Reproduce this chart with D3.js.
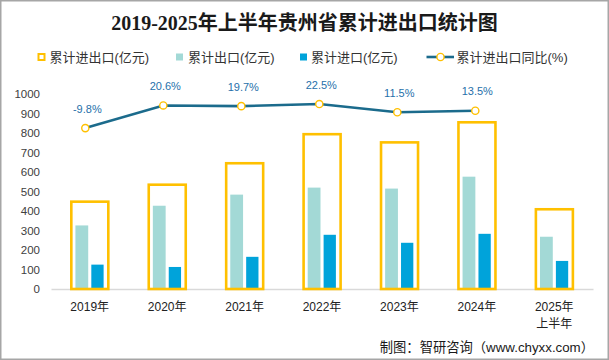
<!DOCTYPE html>
<html><head><meta charset="utf-8">
<script src="https://cdn.jsdelivr.net/npm/d3@7/dist/d3.min.js"></script>
<style>html,body{margin:0;padding:0;background:#fff;}svg{display:block;}</style>
</head><body><svg id="c" width="609" height="360"></svg>
<script>
const categories = ["2019年","2020年","2021年","2022年","2023年","2024年","2025年\n上半年"];
const totalValues = [453, 540, 650, 799, 757, 860, 414];
const exportValues = [326, 427, 484, 520, 515, 576, 268];
const importValues = [125, 113, 165, 278, 237, 283, 144];
const yoyValues = [-9.8, 20.6, 19.7, 22.5, 11.5, 13.5, null];
const yoyLabels = ["-9.8%","20.6%","19.7%","22.5%","11.5%","13.5%",""];
const yTicks = [0,100,200,300,400,500,600,700,800,900,1000];
const legendLabels = ["累计进出口(亿元)","累计出口(亿元)","累计进口(亿元)","累计进出口同比(%)"];

const C = {gold:"#FFC000", exp:"#A3D9D6", imp:"#00A3DA", line:"#1B6B8C", lbl:"#2670AA", txt:"#404040"};
const svg = d3.select("#c");
const font = "'Liberation Sans','Noto Sans CJK SC',sans-serif";

// frame
svg.append("rect").attr("x",0.5).attr("y",0.5).attr("width",608).attr("height",359)
  .attr("fill","#fff").attr("stroke","#A6A6A6").attr("stroke-width",2);

// title
svg.append("text").attr("x",304.5).attr("y",30).attr("text-anchor","middle")
  .attr("font-family","'Liberation Serif','Noto Sans CJK SC',serif").attr("font-weight","bold")
  .attr("font-size",20).attr("fill","#1a1a1a").text("2019-2025年上半年贵州省累计进出口统计图");

// scales
const x = d3.scaleBand().domain(categories).range([51,593]).padding(0);
const xLine = d3.scaleBand().domain(categories).range([46.3,592.3]).padding(0);
const y = d3.scaleLinear().domain([0,1000]).range([289,94]);
const y2 = d3.scaleLinear().domain([-226,36]).range([289,94]);

// y axis labels
const yAxis = d3.axisLeft(y).tickValues(yTicks).tickFormat(d3.format("d")).tickSize(0).tickPadding(0);
const ga = svg.append("g").attr("transform","translate(40,0)").call(yAxis);
ga.select(".domain").remove();
ga.selectAll("text").attr("font-size",11.5).attr("font-family",font).attr("fill",C.txt);

// baseline axis
const xAxis = d3.axisBottom(x).tickSize(0).tickFormat("");
const gx = svg.append("g").attr("transform","translate(0,289)").call(xAxis);
gx.select(".domain").attr("stroke","#D9D9D9").attr("stroke-width",1.5);

// x labels
const xl = svg.append("g");
categories.forEach((c,i)=>{
  const t = xl.append("text").attr("x",x(c)+x.bandwidth()/2).attr("y",311)
    .attr("text-anchor","middle").attr("font-size",12).attr("font-family",font).attr("fill","#222");
  c.split("\n").forEach((s,j)=>{
    t.append("tspan").attr("x",x(c)+x.bandwidth()/2).attr("dy", j===0?0:17).text(s);
  });
});

// bars
const cx = i => x(categories[i]) + x.bandwidth()/2;
svg.append("g").selectAll("rect").data(exportValues).join("rect")
  .attr("x",(d,i)=>cx(i)-14.3).attr("width",12.8)
  .attr("y",d=>y(d)).attr("height",d=>y(0)-y(d)).attr("fill",C.exp);
svg.append("g").selectAll("rect").data(importValues).join("rect")
  .attr("x",(d,i)=>cx(i)+1.6).attr("width",12.3)
  .attr("y",d=>y(d)).attr("height",d=>y(0)-y(d)).attr("fill",C.imp);
svg.append("g").selectAll("rect").data(totalValues).join("rect")
  .attr("x",(d,i)=>cx(i)-18.4).attr("width",37)
  .attr("y",d=>y(d)+1).attr("height",d=>y(0)-y(d)-1)
  .attr("fill","none").attr("stroke",C.gold).attr("stroke-width",2.6);

// line
const pts = yoyValues.map((v,i)=>({v,i})).filter(d=>d.v!==null);
const lx = d => xLine(categories[d.i]) + xLine.bandwidth()/2;
svg.append("path").datum(pts)
  .attr("d", d3.line().x(lx).y(d=>y2(d.v)))
  .attr("fill","none").attr("stroke",C.line).attr("stroke-width",2.6);
svg.append("g").selectAll("circle").data(pts).join("circle")
  .attr("cx",lx).attr("cy",d=>y2(d.v)).attr("r",3.6)
  .attr("fill","#fff").attr("stroke",C.gold).attr("stroke-width",1.4);
svg.append("g").selectAll("text").data(pts).join("text")
  .attr("x",d=>lx(d)+2).attr("y",d=>y2(d.v)-15.5).attr("text-anchor","middle")
  .attr("font-size",11).attr("font-family",font).attr("fill",C.lbl)
  .text(d=>yoyLabels[d.i]);

// legend
const lg = svg.append("g").attr("font-family",font).attr("font-size",13).attr("fill","#333");
lg.append("rect").attr("x",38.5).attr("y",54).attr("width",6).attr("height",6)
  .attr("fill","none").attr("stroke",C.gold).attr("stroke-width",2);
lg.append("text").attr("x",49.5).attr("y",61.5).text(legendLabels[0]);
lg.append("rect").attr("x",176).attr("y",53.5).attr("width",7).attr("height",7).attr("fill",C.exp);
lg.append("text").attr("x",188).attr("y",61.5).text(legendLabels[1]);
lg.append("rect").attr("x",300).attr("y",53.5).attr("width",7).attr("height",7).attr("fill",C.imp);
lg.append("text").attr("x",311).attr("y",61.5).text(legendLabels[2]);
lg.append("line").attr("x1",426.5).attr("x2",454).attr("y1",57).attr("y2",57)
  .attr("stroke",C.line).attr("stroke-width",2.6);
lg.append("circle").attr("cx",440.5).attr("cy",57).attr("r",3.6)
  .attr("fill","#fff").attr("stroke",C.gold).attr("stroke-width",1.4);
lg.append("text").attr("x",456.5).attr("y",61.5).text(legendLabels[3]);

// source
svg.append("text").attr("x",594).attr("y",351.5).attr("text-anchor","end")
  .attr("font-family",font).attr("font-size",13.3).attr("fill","#1a1a1a")
  .text("制图：智研咨询（www.chyxx.com）");
</script></body></html>
